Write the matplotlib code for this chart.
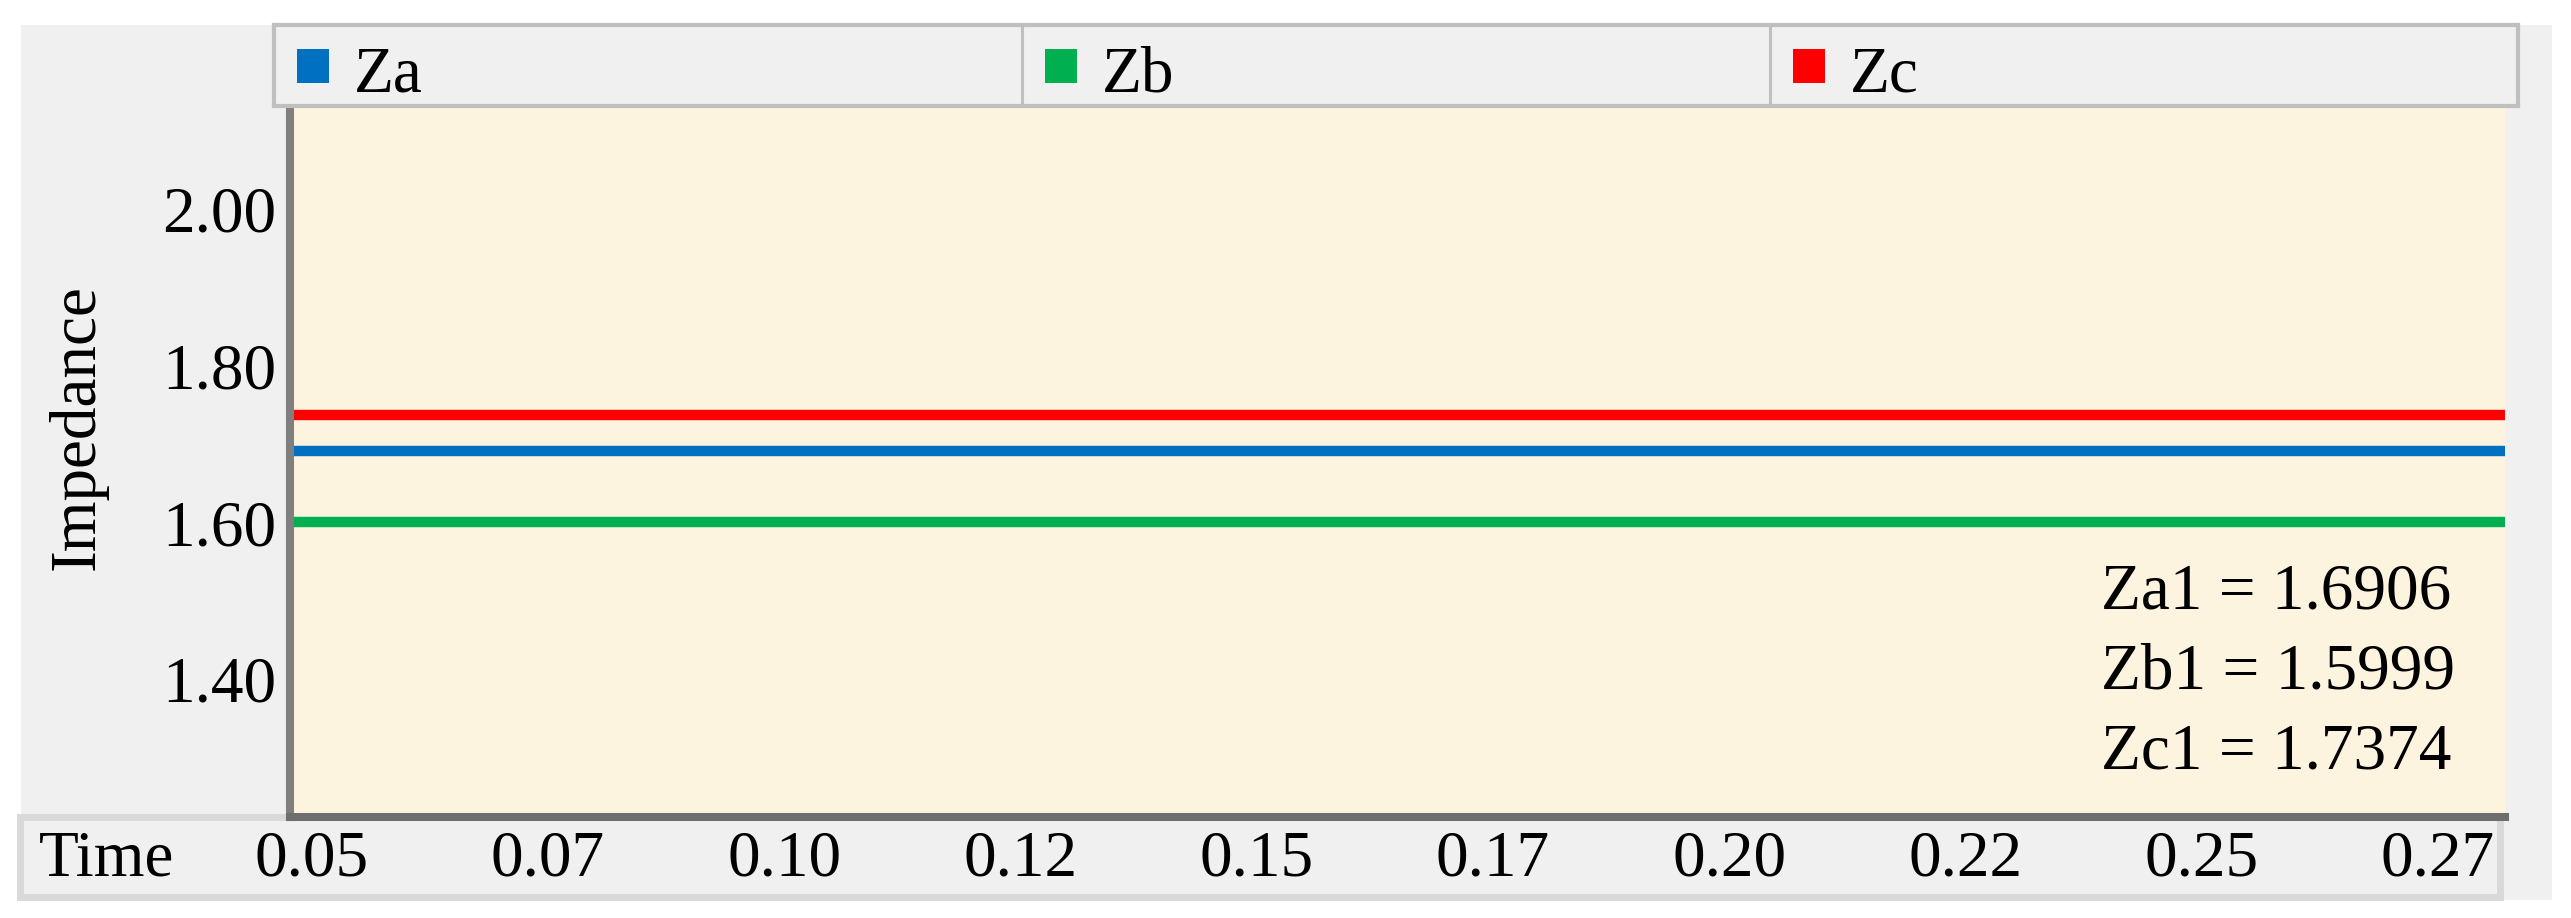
import matplotlib
matplotlib.use('Agg')
import matplotlib.pyplot as plt
from matplotlib.patches import Rectangle

# serif font like the original screenshot (Times)
plt.rcParams['font.family'] = ['Liberation Serif', 'DejaVu Sans']
plt.rcParams['font.size'] = 47

# data
names = ['Za', 'Zb', 'Zc']
colors = ['#0070c0', '#00b050', '#ff0000']
impedance = [1.6906, 1.5999, 1.7374]
time = [0.0477, 0.2821]
xticks = [0.05, 0.075, 0.10, 0.125, 0.15, 0.175, 0.20, 0.225, 0.25, 0.275]
xlabels = ['0.05', '0.07', '0.10', '0.12', '0.15', '0.17', '0.20', '0.22', '0.25', '0.27']
yticks = [1.40, 1.60, 1.80, 2.00]
ylim = (1.2238, 2.1302)

W, H = 2571, 918
fig = plt.figure(figsize=(W / 100, H / 100), dpi=100)


def box(x0, y0, x1, y1):
    # pixel box (top-left origin) -> figure fraction rect
    return [x0 / W, 1 - y1 / H, (x1 - x0) / W, (y1 - y0) / H]


# grey window background
r = box(21, 25, 2552, 900)
fig.patches.append(Rectangle((r[0], r[1]), r[2], r[3], transform=fig.transFigure,
                             facecolor='#f0f0f0', edgecolor='none', zorder=-10))
# time axis band
r = box(20, 817, 2500, 897)
fig.patches.append(Rectangle((r[0], r[1]), r[2], r[3], transform=fig.transFigure,
                             facecolor='#f0f0f0', edgecolor='#d9d9d9', linewidth=5, zorder=-9))

# main plot
ax = fig.add_axes(box(290, 107, 2505, 817))
ax.set_facecolor('#fcf4de')
for name, c, z in zip(names, colors, impedance):
    ax.plot(time, [z, z], color=c, linewidth=7.5, solid_capstyle='butt')
ax.set_xlim(time[0], time[1])
ax.set_ylim(ylim)
ax.set_xticks(xticks)
ax.set_xticklabels(xlabels)
ax.set_yticks(yticks)
ax.set_yticklabels(['%.2f' % v for v in yticks])
ax.tick_params(length=0)
ax.tick_params(axis='y', pad=10)
ax.tick_params(axis='x', pad=9)
ax.spines['top'].set_visible(False)
ax.spines['right'].set_visible(False)
ax.spines['left'].set_color('#7f7f7f')
ax.spines['left'].set_linewidth(5.8)
ax.spines['bottom'].set_color('#6e6e6e')
ax.spines['bottom'].set_linewidth(5.8)

# value readout
for i, (name, z) in enumerate(zip(names, impedance)):
    ax.text(0.8176, 0.2938 - i * 0.113, '%s1 = %.4f' % (name, z),
            transform=ax.transAxes, va='baseline', ha='left')

fig.text(78 / W, 1 - 427 / H, 'Impedance', rotation=90, ha='center', va='center')
fig.text(39 / W, 1 - 875 / H, 'Time', ha='left', va='baseline')

# legend strip
lax = fig.add_axes(box(274, 25, 2518, 106))
lax.set_facecolor('#f0f0f0')
lax.set_xlim(0, 3)
lax.set_ylim(0, 1)
lax.set_xticks([])
lax.set_yticks([])
for s in lax.spines.values():
    s.set_color('#bfbfbf')
    s.set_linewidth(3)
for k in [1, 2]:
    lax.axvline(k, color='#c0c0c0', linewidth=2.2)
for i, (name, c) in enumerate(zip(names, colors)):
    lax.add_patch(Rectangle((i + 0.031, 0.2875), 0.0428, 0.4125, facecolor=c, edgecolor='none'))
    lax.text(i + 0.107, 0.175, name, va='baseline', ha='left')

fig.savefig('out.png', dpi=100, facecolor='white')
